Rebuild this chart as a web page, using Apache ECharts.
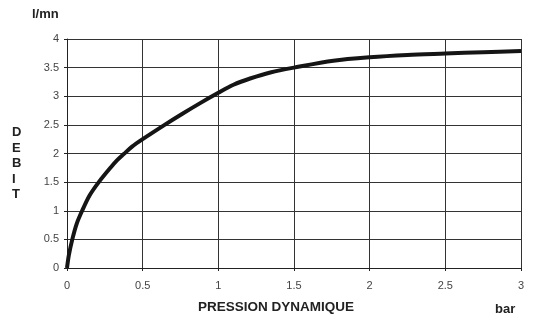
<!DOCTYPE html>
<html>
<head>
<meta charset="utf-8">
<script src="https://cdn.jsdelivr.net/npm/echarts@6/dist/echarts.min.js"></script>
<style>
  html, body { margin: 0; padding: 0; background: #fff; }
  #chart { width: 535px; height: 315px; }
</style>
</head>
<body>
<div id="chart"></div>
<script>
// pression dynamique (bar) -> debit (l/mn)
const pression = [0, 0.012, 0.035, 0.065, 0.1, 0.15, 0.21, 0.29, 0.33, 0.375, 0.43, 0.5, 0.645, 0.76, 0.88, 1, 1.1, 1.21, 1.35, 1.5, 1.76, 2, 2.25, 2.5, 2.75, 3];
const debit = [0, 0.22, 0.5, 0.78, 1.0, 1.27, 1.5, 1.76, 1.88, 1.99, 2.12, 2.25, 2.5, 2.69, 2.88, 3.06, 3.2, 3.31, 3.42, 3.5, 3.62, 3.68, 3.72, 3.745, 3.77, 3.79];
const xTicks = [0, 0.5, 1, 1.5, 2, 2.5, 3];
const yTicks = [0, 0.5, 1, 1.5, 2, 2.5, 3, 3.5, 4];

const chart = echarts.init(document.getElementById('chart'));

const labelFont = { color: '#444', fontSize: 11, fontFamily: 'Liberation Sans, Arial, sans-serif' };
const titleFont = { fill: '#222', fontWeight: 'bold', fontFamily: 'Liberation Sans, Arial, sans-serif' };

chart.setOption({
  animation: false,
  grid: { left: 67, right: 14, top: 39, bottom: 47 },
  xAxis: {
    type: 'value',
    min: xTicks[0],
    max: xTicks[xTicks.length - 1],
    interval: 0.5,
    axisLine: { lineStyle: { color: '#222', width: 1 } },
    axisTick: { show: true, length: 3, lineStyle: { color: '#222' } },
    splitLine: { show: true, lineStyle: { color: '#333', width: 1 } },
    axisLabel: Object.assign({ margin: 12 }, labelFont)
  },
  yAxis: {
    type: 'value',
    min: yTicks[0],
    max: yTicks[yTicks.length - 1],
    interval: 0.5,
    axisLine: { show: true, lineStyle: { color: '#222', width: 1 } },
    axisTick: { show: true, length: 3, lineStyle: { color: '#222' } },
    splitLine: { show: true, lineStyle: { color: '#333', width: 1 } },
    axisLabel: Object.assign({ margin: 8 }, labelFont)
  },
  graphic: [
    { type: 'text', left: 32, top: 8, style: Object.assign({ text: 'l/mn', fontSize: 13 }, titleFont) },
    { type: 'text', left: 12, top: 125, style: Object.assign({ text: 'D\nE\nB\nI\nT', fontSize: 13, lineHeight: 15.5, align: 'center', width: 12 }, titleFont) },
    { type: 'text', left: 198, top: 300, style: Object.assign({ text: 'PRESSION DYNAMIQUE', fontSize: 13.5 }, titleFont) },
    { type: 'text', left: 495, top: 303, style: Object.assign({ text: 'bar', fontSize: 13 }, titleFont) }
  ],
  series: [{
    type: 'line',
    data: pression.map((p, i) => [p, debit[i]]),
    smooth: 0.3,
    showSymbol: false,
    lineStyle: { color: '#151515', width: 4 }
  }]
});
</script>
</body>
</html>
